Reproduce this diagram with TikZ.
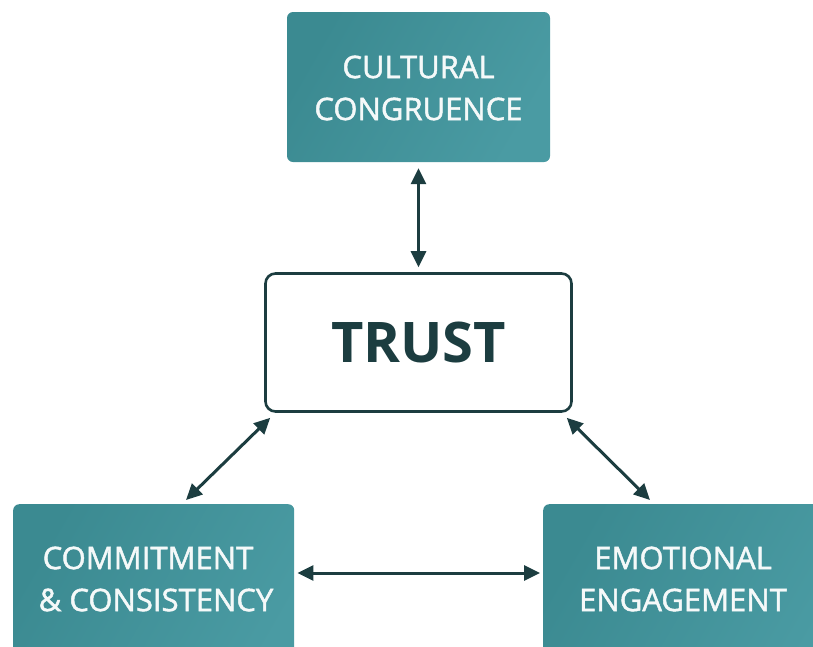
\documentclass[tikz,border=0pt]{standalone}
\usepackage{fontspec}
\setmainfont{Open Sans}
\newfontfamily\labelfont{Open Sans}[FakeBold=1.5]
\usetikzlibrary{calc,arrows.meta}
\definecolor{tealA}{HTML}{3B8A91}
\definecolor{tealB}{HTML}{4A9BA3}
\definecolor{ink}{HTML}{1C3D40}
\definecolor{paper}{HTML}{F5F9F9}
\tikzset{
  factor/.style={rounded corners=6pt, left color=tealA, right color=tealB,
    shading angle=60, inner sep=0pt},
  label/.style={text=paper, align=center, font=\labelfont\fontsize{31}{42}\selectfont, inner sep=0pt},
  core/.style={draw=ink, line width=2.6pt, rounded corners=10pt, fill=white,
    text=ink, font=\fontsize{56}{60}\selectfont\bfseries, inner sep=0pt},
  link/.style={ink, line width=3pt, {Triangle[length=16pt,width=15pt]}-{Triangle[length=16pt,width=15pt]}}
}
\begin{document}
\begin{tikzpicture}[x=1pt,y=-1pt]
\useasboundingbox (0,0) rectangle (813,646);
\clip (0,0) rectangle (813,646);
% factor boxes
\node[factor, minimum width=263pt, minimum height=150pt] (cult) at (418.5,87) {};
\node[label] (culttxt) at ($(cult.center)+(0,1)$) {CULTURAL\\CONGRUENCE};
\node[factor, anchor=north west, minimum width=281pt, minimum height=190pt] (comm) at (13,504) {};
\node[factor, anchor=north west, minimum width=290pt, minimum height=190pt] (emo) at (543,504) {};
\node[label] (commtxt) at (156,579) {COMMITMENT\hspace*{16pt}\\\& CONSISTENCY};
\node[label] (emotxt) at (683,579) {EMOTIONAL\\ENGAGEMENT};
% central box
\node[core, minimum width=306pt, minimum height=138pt] (trust) at (418.5,342.5) {TRUST};
% connectors
\draw[link] ($(cult.south)+(0,6)$) -- ($(trust.north)+(0,-5)$);
\draw[link] ($(trust.south west)+(6,5)$) -- ($(comm.north west)+(173,-4)$);
\draw[link] ($(trust.south east)+(-6,5)$) -- ($(emo.north west)+(107,-4)$);
\draw[link] ($(comm.north east)+(3,69)$) -- ($(emo.north west)+(-3,69)$);
\end{tikzpicture}
\end{document}
